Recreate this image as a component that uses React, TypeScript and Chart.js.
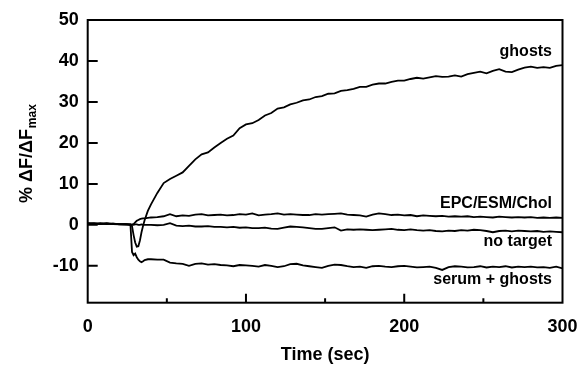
import React, { useEffect, useRef } from "react";
import { Chart, registerables } from "chart.js";

Chart.register(...registerables);

const times = [
  0, 4, 8, 12, 16, 20, 24, 27,
  28, 29, 30, 31, 32, 33, 34, 35, 36, 38,
  40, 44, 48, 52, 56, 60, 64, 68, 72, 76,
  80, 84, 88, 92, 96, 100, 104, 108, 112, 116,
  120, 124, 128, 132, 136, 140, 144, 148, 152, 156,
  160, 164, 168, 172, 176, 180, 184, 188, 192, 196,
  200, 204, 208, 212, 216, 220, 224, 228, 232, 236,
  240, 244, 248, 252, 256, 260, 264, 268, 272, 276,
  280, 284, 288, 292, 296, 300,
];

const ghosts = [
  0.4, 0.3, 0.4, 0.2, 0.3, 0.2, 0.1, 0.1,
  -0.3, -2.5, -4.3, -5.3, -5.2, -3.8, -1.8, -0.2, 1.2, 3.4,
  5.0, 7.8, 10.2, 11.2, 12.0, 12.8, 14.4, 16.0, 17.2, 17.7,
  18.9, 20.0, 21.0, 21.8, 23.6, 24.5, 24.8, 25.6, 26.7, 27.3,
  28.4, 28.7, 29.4, 29.8, 30.4, 30.6, 31.2, 31.4, 32.0, 32.1,
  32.7, 32.9, 33.2, 33.7, 33.7, 34.2, 34.5, 34.5, 34.9, 35.2,
  35.2, 35.6, 35.9, 35.7, 36.0, 36.3, 36.1, 36.2, 36.5, 36.2,
  36.8, 37.1, 37.4, 37.0, 37.6, 38.0, 37.4, 37.3, 37.9, 38.4,
  38.6, 38.3, 38.5, 38.3, 38.8, 39.0,
];

const epcEsmChol = [
  0.3, 0.4, 0.2, 0.3, 0.3, 0.1, 0.2, 0.0,
  0.0, 0.2, 0.6, 1.0, 1.2, 1.4, 1.5, 1.6, 1.6, 1.7,
  1.8, 1.9, 2.1, 2.6, 2.1, 2.3, 2.2, 2.5, 2.6, 2.3,
  2.4, 2.5, 2.3, 2.4, 2.6, 2.5, 2.8, 2.3, 2.5, 2.6,
  2.8, 2.5, 2.6, 2.5, 2.4, 2.4, 2.6, 2.5, 2.6, 2.7,
  2.8, 2.5, 2.4, 2.3, 2.0, 2.5, 2.8, 2.6, 2.4, 2.5,
  2.3, 2.4, 2.1, 2.3, 2.2, 2.1, 2.2, 2.0, 2.1, 2.0,
  2.1, 1.9, 2.0, 1.9, 1.8, 2.0, 1.9, 1.8, 1.9, 1.8,
  1.9, 1.7, 1.8, 1.7, 1.8, 1.7,
];

const noTarget = [
  0.3, 0.2, 0.3, 0.4, 0.2, 0.2, 0.1, 0.0,
  0.1, 0.0, 0.1, 0.1, 0.0, 0.0, 0.1, 0.0, 0.0, 0.0,
  0.0, -0.1, 0.0, 0.4, -0.2, -0.3, -0.2, -0.4, -0.4, -0.3,
  -0.5, -0.5, -0.6, -0.5, -0.7, -0.6, -0.8, -0.8, -0.7, -0.9,
  -1.0, -0.7, -0.4, -0.5, -0.6, -0.8, -1.0, -1.0, -0.8, -0.6,
  -1.4, -1.1, -1.2, -1.1, -1.2, -1.3, -1.2, -1.1, -1.0, -1.2,
  -1.3, -1.1, -1.3, -1.4, -1.3, -1.5, -1.6, -1.4, -1.5, -1.3,
  -1.4, -1.2, -1.3, -1.5, -1.8, -1.5, -1.4, -1.6, -1.4, -1.5,
  -1.6, -1.5, -1.7, -1.6, -1.7, -1.8,
];

const serumGhosts = [
  0.3, 0.3, 0.2, 0.3, 0.2, 0.1, 0.2, 0.1,
  -6.6, -7.4, -7.0, -7.9, -8.5, -8.9, -9.1, -8.9, -8.6, -8.4,
  -8.4, -8.5, -8.5, -9.2, -9.4, -9.5, -10.0, -9.5, -9.4, -9.7,
  -9.6, -9.8, -9.9, -10.1, -9.8, -9.9, -10.0, -10.2, -9.8, -10.0,
  -10.3, -10.1, -9.6, -9.5, -9.9, -10.1, -10.3, -10.5, -10.0, -9.7,
  -9.8, -10.1, -10.3, -10.2, -10.5, -10.1, -10.0, -10.2, -10.3, -10.1,
  -10.0, -10.2, -10.4, -10.3, -10.2, -10.5, -11.0, -10.3, -10.1, -10.2,
  -10.4, -10.3, -10.1, -10.4, -10.2, -10.3, -10.1, -10.4, -10.2, -10.3,
  -10.2, -10.4, -10.3, -10.5, -10.2, -10.6,
];

const seriesNames = ["ghosts", "EPC/ESM/Chol", "no target", "serum + ghosts"];
const yTickValues = [-10, 0, 10, 20, 30, 40, 50];
const xTickValues = [0, 100, 200, 300];
const xMajorInner = [100, 200];
const xMinorTicks = [50, 150, 250];
const yInnerTicks = [-10, 0, 10, 20, 30, 40];
const labelBaselines = [56, 208, 246, 284];

const FONT = "'Liberation Sans', Arial, Helvetica, sans-serif";

const overlayPlugin = {
  id: "overlay",
  afterDraw(chart: any) {
    const { ctx, chartArea } = chart;
    const { left, right, top, bottom } = chartArea;
    const xs = chart.scales.x;
    const ys = chart.scales.y;
    ctx.save();
    ctx.strokeStyle = "#000";
    ctx.lineWidth = 2;
    ctx.strokeRect(left, top, right - left, bottom - top);
    ctx.beginPath();
    yInnerTicks.forEach((v) => {
      const py = ys.getPixelForValue(v);
      ctx.moveTo(left, py);
      ctx.lineTo(left + 10, py);
    });
    xMajorInner.forEach((v) => {
      const px = xs.getPixelForValue(v);
      ctx.moveTo(px, bottom);
      ctx.lineTo(px, bottom - 9);
    });
    xMinorTicks.forEach((v) => {
      const px = xs.getPixelForValue(v);
      ctx.moveTo(px, bottom);
      ctx.lineTo(px, bottom - 4.5);
    });
    ctx.stroke();

    ctx.fillStyle = "#000";
    ctx.font = `bold 16px ${FONT}`;
    ctx.textAlign = "right";
    ctx.textBaseline = "alphabetic";
    seriesNames.forEach((n, i) => {
      ctx.fillText(n, 552, labelBaselines[i]);
    });

    ctx.translate(32, 203);
    ctx.rotate(-Math.PI / 2);
    ctx.textAlign = "left";
    ctx.font = `bold 18px ${FONT}`;
    const main = "% \u0394F/\u0394F";
    ctx.fillText(main, 0, 0);
    const w = ctx.measureText(main).width;
    ctx.font = `bold 12px ${FONT}`;
    ctx.fillText("max", w + 1, 4);
    ctx.restore();
  },
};

export default function App() {
  const ref = useRef<HTMLCanvasElement | null>(null);
  useEffect(() => {
    if (!ref.current) return;
    const allSeries = [ghosts, epcEsmChol, noTarget, serumGhosts];
    const chart = new Chart(ref.current, {
      type: "line",
      data: {
        datasets: allSeries.map((s, i) => ({
          label: seriesNames[i],
          data: times.map((t, j) => ({ x: t, y: s[j] })),
          borderColor: "#000",
          borderWidth: 1.8,
          pointRadius: 0,
          tension: 0,
          fill: false,
        })),
      },
      options: {
        animation: false,
        responsive: true,
        maintainAspectRatio: false,
        layout: { padding: { left: 0, top: 20, right: 18.5, bottom: 0 } },
        plugins: {
          legend: { display: false },
          tooltip: { enabled: false },
        },
        scales: {
          x: {
            type: "linear",
            min: 0,
            max: 300,
            afterFit: (s: any) => {
              s.height = 64.3;
              s.paddingLeft = 0;
              s.paddingRight = 0;
            },
            afterBuildTicks: (s: any) => {
              s.ticks = xTickValues.map((v) => ({ value: v }));
            },
            grid: { display: false, drawTicks: false },
            border: { display: false },
            ticks: {
              padding: 14,
              color: "#000",
              font: { family: FONT, size: 18, weight: "bold" },
              maxRotation: 0,
            },
            title: {
              display: true,
              text: "Time (sec)",
              color: "#000",
              font: { family: FONT, size: 18, weight: "bold" },
              padding: { top: 0, bottom: 1 },
            },
          },
          y: {
            type: "linear",
            min: -19,
            max: 50,
            afterFit: (s: any) => {
              s.width = 87.7;
              s.paddingTop = 0;
              s.paddingBottom = 0;
            },
            afterBuildTicks: (s: any) => {
              s.ticks = yTickValues.map((v) => ({ value: v }));
            },
            grid: { display: false, drawTicks: false },
            border: { display: false },
            ticks: {
              padding: 9,
              color: "#000",
              font: { family: FONT, size: 18, weight: "bold" },
            },
          },
        },
      },
      plugins: [overlayPlugin],
    } as any);
    return () => chart.destroy();
  }, []);
  return (
    <div style={{ position: "fixed", left: 0, top: 0, width: 581, height: 367, background: "#fff" }}>
      <canvas ref={ref} />
    </div>
  );
}
